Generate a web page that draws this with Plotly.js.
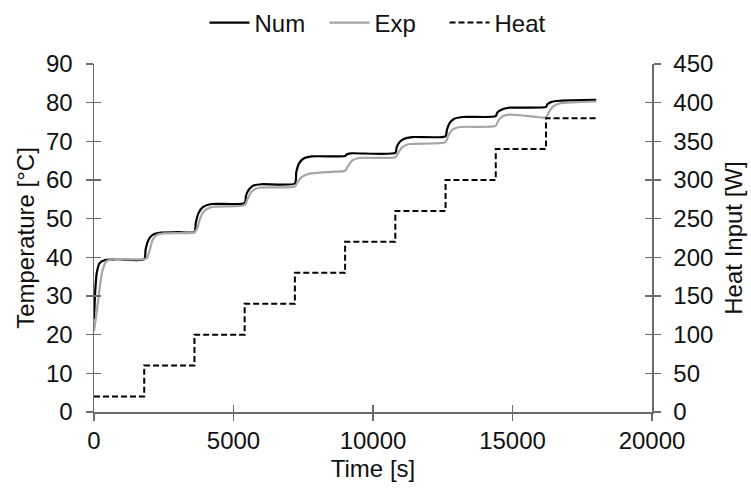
<!DOCTYPE html>
<html><head><meta charset="utf-8">
<script src="https://cdn.plot.ly/plotly-3.0.1.min.js"></script>
<style>html,body{margin:0;padding:0;background:#fff}#chart{width:751px;height:491px}</style>
</head><body><div id="chart"></div>
<script>
// Numerical temperature [°C]
const numTime = [0,50,100,200,400,800,1800,1850,1950,2100,2400,3000,3600,3650,3750,3900,4200,5400,5450,5550,5700,6000,7200,7250,7350,7500,7800,9000,9050,9200,10800,10850,10950,11100,11400,12600,12650,12750,12900,13200,14400,14450,14600,14900,16200,16250,16400,16700,18000];
const numTemp = [24,32,36,38.5,39.3,39.5,39.5,42,44.5,45.8,46.4,46.5,46.6,49,51.5,53,53.8,54.0,56,57.5,58.5,58.9,59.1,62,64.3,65.5,66.1,66.2,66.6,66.9,67.0,68.5,69.8,70.6,71.1,71.3,73,74.8,75.8,76.3,76.5,77.4,78.2,78.7,78.9,79.6,80.2,80.5,80.7];
// Experimental temperature [°C]
const expTime = [0,100,200,300,450,700,1800,1900,2000,2100,2250,2500,3600,3700,3800,3950,4200,5400,5500,5650,5900,7200,7300,7450,7700,8500,9000,9100,9250,9500,10800,10900,11050,11300,12600,12700,12850,13100,14400,14500,14650,14900,15500,16200,16300,16450,16700,17200,18000];
const expTemp = [21,26,32,36.5,39,39.5,39.5,39.8,42,44.5,45.8,46.2,46.5,47.5,50,52,53,53.5,55,57,58,58.3,59.5,60.8,61.6,62.1,62.4,63.5,65,65.7,65.9,67,68.5,69.3,69.8,71.5,73,73.7,74.0,75.5,76.5,76.9,76.6,76.2,77.5,79,79.8,80.1,80.3];
// Heat input [W]
const heatTime = [0,1800,1800,3600,3600,5400,5400,7200,7200,9000,9000,10800,10800,12600,12600,14400,14400,16200,16200,18000];
const heatW = [20,20,60,60,100,100,140,140,180,180,220,220,260,260,300,300,340,340,380,380];

const xTicks = [0,5000,10000,15000,20000];
const font = 'Liberation Sans, Arial, sans-serif';
const axisCol = '#6b6b6b';

const traces = [
  {x: numTime, y: numTemp, name: 'Num', mode: 'lines', line: {color: '#000000', width: 2.2, shape: 'spline', smoothing: 0.6}},
  {x: expTime, y: expTemp, name: 'Exp', mode: 'lines', line: {color: '#a6a6a6', width: 2.2, shape: 'spline', smoothing: 0.6}},
  {x: heatTime, y: heatW, name: 'Heat', mode: 'lines', yaxis: 'y2', line: {color: '#000000', width: 2, dash: '6px,3px'}},
  {x: [], y: [], xaxis: 'x2', yaxis: 'y3', showlegend: false, hoverinfo: 'skip'},
  {x: [], y: [], xaxis: 'x2', yaxis: 'y4', showlegend: false, hoverinfo: 'skip'}
];

const layout = {
  width: 751, height: 491,
  margin: {l: 94, r: 99, t: 64, b: 79},
  paper_bgcolor: '#fff', plot_bgcolor: '#fff',
  font: {family: font, size: 24, color: '#111111'},
  showlegend: true,
  legend: {orientation: 'h', x: 0.512, xanchor: 'center', xref: 'container', y: 1 - 23/491, yanchor: 'middle', yref: 'container',
           font: {size: 24}, itemwidth: 40, tracegroupgap: 0, traceorder: 'normal', entrywidth: 65, entrywidthmode: 'pixels'},
  xaxis: {range: [0, 20000], tickvals: xTicks, ticktext: xTicks.map(String), ticks: 'outside', ticklen: 7, tickwidth: 1.5, tickcolor: axisCol,
          showline: true, linecolor: axisCol, linewidth: 1.5, showgrid: false, zeroline: false, automargin: false,
          tickfont: {size: 24}, title: {text: 'Time [s]', font: {size: 24}, standoff: 7}},
  yaxis: {range: [0, 90], dtick: 10, ticks: 'outside', ticklen: 7, tickwidth: 1.5, tickcolor: axisCol, ticklabelstandoff: 8,
          showline: true, linecolor: axisCol, linewidth: 1.5, showgrid: false, zeroline: false, automargin: false,
          tickfont: {size: 24}, title: {text: 'Temperature [°C]', font: {size: 24}, standoff: 4}},
  yaxis2: {range: [0, 450], dtick: 50, overlaying: 'y', side: 'right', ticks: 'outside', ticklen: 7, tickwidth: 1.5, tickcolor: axisCol, ticklabelstandoff: 8,
           showline: true, linecolor: axisCol, linewidth: 1.5, showgrid: false, zeroline: false, automargin: false,
           tickfont: {size: 24}, title: {text: 'Heat Input [W]', font: {size: 24}, standoff: 13}},
  xaxis2: {range: [0, 20000], tickvals: xTicks, overlaying: 'x', ticks: 'inside', ticklen: 7, tickwidth: 1.5, tickcolor: axisCol,
           showticklabels: false, showline: false, showgrid: false, zeroline: false},
  yaxis3: {range: [0, 90], dtick: 10, overlaying: 'y', side: 'left', ticks: 'inside', ticklen: 7, tickwidth: 1.5, tickcolor: axisCol,
           showticklabels: false, showline: false, showgrid: false, zeroline: false},
  yaxis4: {range: [0, 450], dtick: 50, overlaying: 'y', side: 'right', ticks: 'inside', ticklen: 7, tickwidth: 1.5, tickcolor: axisCol,
           showticklabels: false, showline: false, showgrid: false, zeroline: false}
};

Plotly.newPlot('chart', traces, layout, {staticPlot: true, displayModeBar: false});
</script></body></html>
